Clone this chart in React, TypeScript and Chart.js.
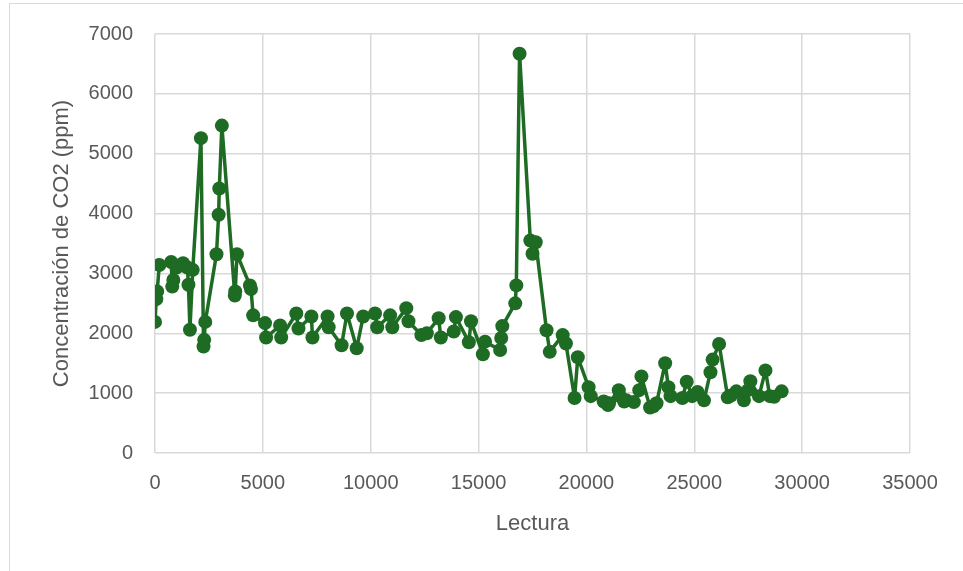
import React, { useEffect, useRef } from "react";
import { Chart, registerables } from "chart.js";

Chart.register(...registerables);

// Reading number (Lectura) for each sample
const lectura: number[] = [
  0, 60, 100, 200, 750, 800, 850, 1000, 1300, 1500, 1550, 1620, 1750,
  2130, 2250, 2280, 2330, 2850, 2950, 2980, 3100, 3700, 3720, 3800,
  4400, 4450, 4550, 5100, 5150, 5800, 5850, 6550, 6650, 7250, 7300,
  8000, 8050, 8650, 8900, 9350, 9650, 10200, 10300, 10900, 11000,
  11650, 11750, 12350, 12600, 13150, 13250, 13850, 13950, 14550, 14650,
  15200, 15300, 16000, 16050, 16100, 16700, 16750, 16900, 17400, 17500,
  17650, 18150, 18300, 18900, 19050, 19450, 19600, 20100, 20200, 20800,
  21000, 21050, 21500, 21550, 21750, 21850, 22200, 22450, 22550, 22950,
  23100, 23250, 23650, 23800, 23900, 24450, 24650, 24900, 25150, 25450,
  25750, 25850, 26150, 26550, 26700, 26950, 27300, 27500, 27600, 28000,
  28300, 28500, 28700, 29050,
];

// CO2 concentration (ppm) for each reading
const co2Ppm: number[] = [
  2190, 2570, 2700, 3140, 3190, 2780, 2890, 3100, 3170, 3100, 2810, 2060, 3060,
  5260, 1780, 1890, 2190, 3320, 3980, 4420, 5470, 2630, 2700, 3320,
  2800, 2740, 2300, 2170, 1930, 2130, 1930, 2330, 2080, 2280, 1930,
  2280, 2100, 1800, 2330, 1750, 2280, 2330, 2100, 2300, 2100,
  2420, 2200, 1970, 2000, 2250, 1930, 2030, 2270, 1850, 2200,
  1650, 1860, 1720, 1920, 2120, 2500, 2800, 6670, 3550, 3330,
  3520, 2050, 1690, 1970, 1830, 920, 1600, 1100, 950, 860,
  800, 830, 1050, 950, 860, 880, 850, 1050, 1280, 760,
  780, 830, 1500, 1100, 950, 920, 1190, 950, 1020, 880,
  1350, 1560, 1820, 930, 960, 1030, 880, 1050, 1200, 950,
  1380, 950, 940, 1030,
];

const yTicks: number[] = [0, 1000, 2000, 3000, 4000, 5000, 6000, 7000];
const xTicks: number[] = [0, 5000, 10000, 15000, 20000, 25000, 30000, 35000];

const GREEN = "#1e6b24";
const GRID = "#d9d9d9";
const TEXT = "#595959";
const FONT = "'Liberation Sans', Arial, sans-serif";

export default function App() {
  const canvasRef = useRef<HTMLCanvasElement | null>(null);

  useEffect(() => {
    const canvas = canvasRef.current;
    if (!canvas) return;
    const points = lectura.map((x, i) => ({ x, y: co2Ppm[i] }));

    const chart = new Chart(canvas, {
      type: "scatter",
      data: {
        datasets: [
          {
            data: points,
            showLine: true,
            borderColor: GREEN,
            backgroundColor: GREEN,
            borderWidth: 3.5,
            borderJoinStyle: "round",
            borderCapStyle: "round",
            pointRadius: 7,
            pointHoverRadius: 7,
            pointBorderWidth: 0,
            tension: 0,
          },
        ],
      },
      options: {
        animation: false,
        responsive: false,
        maintainAspectRatio: false,
        layout: { padding: { left: 45, top: 33, right: 53, bottom: 30 } },
        plugins: { legend: { display: false }, tooltip: { enabled: false } },
        scales: {
          x: {
            type: "linear",
            min: 0,
            max: 35000,
            afterBuildTicks: (s: any) => {
              s.ticks = xTicks.map((v) => ({ value: v }));
            },
            afterFit: (s: any) => {
              s.height = 88;
            },
            grid: { color: GRID, lineWidth: 1.5, drawTicks: false },
            border: { display: false },
            ticks: {
              padding: 18,
              color: TEXT,
              font: { family: FONT, size: 20 },
              maxRotation: 0,
              autoSkip: false,
              callback: (v: any) => String(v),
            },
            title: {
              display: true,
              text: "Lectura",
              color: TEXT,
              font: { family: FONT, size: 22 },
            },
          },
          y: {
            type: "linear",
            min: 0,
            max: 7000,
            afterBuildTicks: (s: any) => {
              s.ticks = yTicks.map((v) => ({ value: v }));
            },
            afterFit: (s: any) => {
              s.width = 110;
            },
            grid: { color: GRID, lineWidth: 1.5, drawTicks: false },
            border: { display: false },
            ticks: {
              padding: 22,
              color: TEXT,
              font: { family: FONT, size: 20 },
              autoSkip: false,
              callback: (v: any) => String(v),
            },
            title: {
              display: true,
              text: "Concentración de CO2 (ppm)",
              color: TEXT,
              font: { family: FONT, size: 22 },
            },
          },
        },
      },
    });
    return () => chart.destroy();
  }, []);

  return (
    <div
      style={{
        position: "fixed",
        left: 0,
        top: 0,
        width: 963,
        height: 571,
        overflow: "hidden",
        background: "#ffffff",
      }}
    >
      <div
        style={{
          position: "absolute",
          left: 9,
          top: 3,
          width: 1000,
          height: 620,
          borderLeft: "1.5px solid #d9d9d9",
          borderTop: "1.5px solid #d9d9d9",
        }}
      />
      <canvas
        ref={canvasRef}
        width={963}
        height={571}
        style={{ position: "absolute", left: 0, top: 0, width: 963, height: 571 }}
      />
    </div>
  );
}
